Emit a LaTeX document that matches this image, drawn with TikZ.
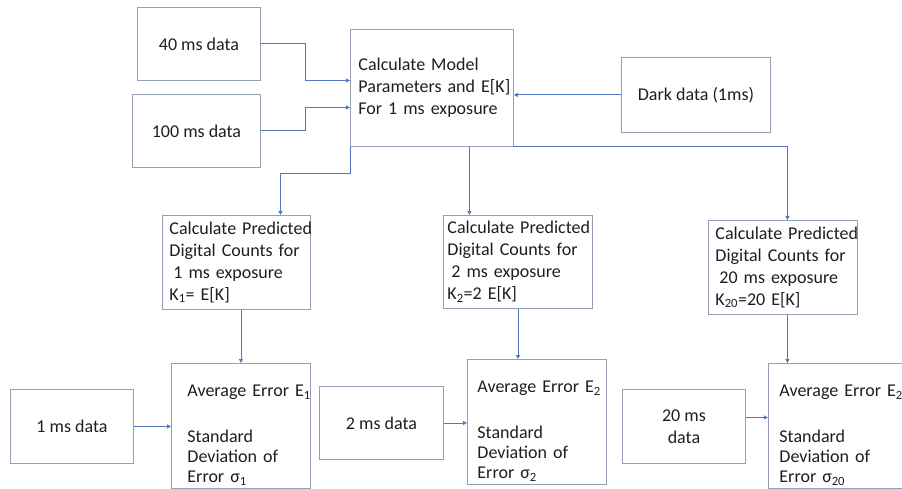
\documentclass[tikz,border=0pt]{standalone}
\usepackage{fontspec}
\setmainfont{Carlito}
\usetikzlibrary{arrows.meta}
\definecolor{boxgray}{RGB}{150,160,180}
\definecolor{flowblue}{RGB}{80,120,190}
\definecolor{txtdark}{RGB}{30,30,30}
\hyphenpenalty=10000
\exhyphenpenalty=10000

\begin{document}
\begin{tikzpicture}[x=1pt,y=-1pt]
        \tikzstyle{every node}+=[font=\fontsize{18}{22}\selectfont, text=txtdark]
        \tikzstyle{databox}=[draw=boxgray, line width=0.9pt, anchor=north west, align=center]
        \tikzstyle{txtbox}=[draw=boxgray, line width=0.9pt, anchor=north west, align=left, inner xsep=0pt]
        \tikzstyle{errbox}=[txtbox, font=\fontsize{18}{20}\selectfont]
        \tikzstyle{flow}=[draw=flowblue, line width=0.9pt, -{Triangle[length=4pt,width=4pt]}]
        \useasboundingbox (0,0) rectangle (902,489);
        \clip (0,0) rectangle (902,489);
        \node[databox, minimum width=123pt, minimum height=73pt] (d40) at (137,7) {40 ms data};
        \node[databox, minimum width=128pt, minimum height=73pt] (d100) at (132,94) {100 ms data};
        \node[txtbox, minimum width=163pt, minimum height=117pt, text width=147pt] (calc) at (350,29) {Calculate~Model\\Parameters~and~E[K]\\For~1~ms~exposure};
        \node[databox, minimum width=149pt, minimum height=75pt] (dark) at (621,57) {Dark data (1ms)};
        \node[txtbox, minimum width=148pt, minimum height=94pt, text width=134pt] (pred1) at (162,215) {Calculate~Predicted\\Digital~Counts~for\\\hspace*{4pt}1~ms~exposure\\K\textsubscript{1}=~E[K]};
        \node[txtbox, minimum width=149pt, minimum height=93pt, text width=141pt] (pred2) at (443,215) {Calculate~Predicted\\Digital~Counts~for\\\hspace*{4pt}2~ms~exposure\\K\textsubscript{2}=2~E[K]};
        \node[txtbox, minimum width=149pt, minimum height=94pt, text width=135pt] (pred20) at (708,220) {Calculate~Predicted\\Digital~Counts~for\\\hspace*{4pt}20~ms~exposure\\K\textsubscript{20}=20~E[K]};
        \node[databox, minimum width=123pt, minimum height=74pt] (d1) at (10,389) {1 ms data};
        \node[errbox, minimum width=139pt, minimum height=124pt, text width=107pt] (avg1) at (171,363) {\rule{0pt}{30pt}Average~Error~E\textsubscript{1}\\[26pt]Standard\\Deviation~of\\Error~σ\textsubscript{1}};
        \node[databox, minimum width=124pt, minimum height=73pt] (d2) at (319,386) {2 ms data};
        \node[errbox, minimum width=139pt, minimum height=124pt, text width=119pt] (avg2) at (467,359) {\rule{0pt}{30pt}Average~Error~E\textsubscript{2}\\[26pt]Standard\\Deviation~of\\Error~σ\textsubscript{2}};
        \node[databox, minimum width=123pt, minimum height=74pt] (d20) at (622,389) {20 ms\\data};
        \node[errbox, minimum width=139pt, minimum height=123pt, text width=117pt] (avg20) at (768,363) {\rule{0pt}{30pt}Average~Error~E\textsubscript{20}\\[26pt]Standard\\Deviation~of\\Error~σ\textsubscript{20}};
        \draw[flow] (d40.east) -- ++(45,0) |- ([yshift=7.5pt]calc.west);
        \draw[flow] (d100.east) -- ++(45,0) |- ([yshift=-19.5pt]calc.west);
        \draw[flow] (dark.west) -- (dark.west -| calc.east);
        \draw[flow] (calc.south west) -- ++(0,27) -| ([xshift=44pt]pred1.north);
        \draw[flow] ([xshift=37.5pt]calc.south) -- ([xshift=37.5pt]calc.south |- pred2.north);
        \draw[flow] (calc.south east) -| ([xshift=4.5pt]pred20.north);
        \draw[flow] (avg1.north |- pred1.south) -- (avg1.north);
        \draw[flow] (pred2.south) -- (pred2.south |- avg2.north);
        \draw[flow] ([xshift=4.5pt]pred20.south) -- ([xshift=4.5pt]pred20.south |- avg20.north);
        \draw[flow] (d1.east) -- (d1.east -| avg1.west);
        \draw[flow] (d2.east) -- (d2.east -| avg2.west);
        \draw[flow] ([yshift=9pt]d20.east) -- ([yshift=9pt]d20.east -| avg20.west);
\end{tikzpicture}
\end{document}
